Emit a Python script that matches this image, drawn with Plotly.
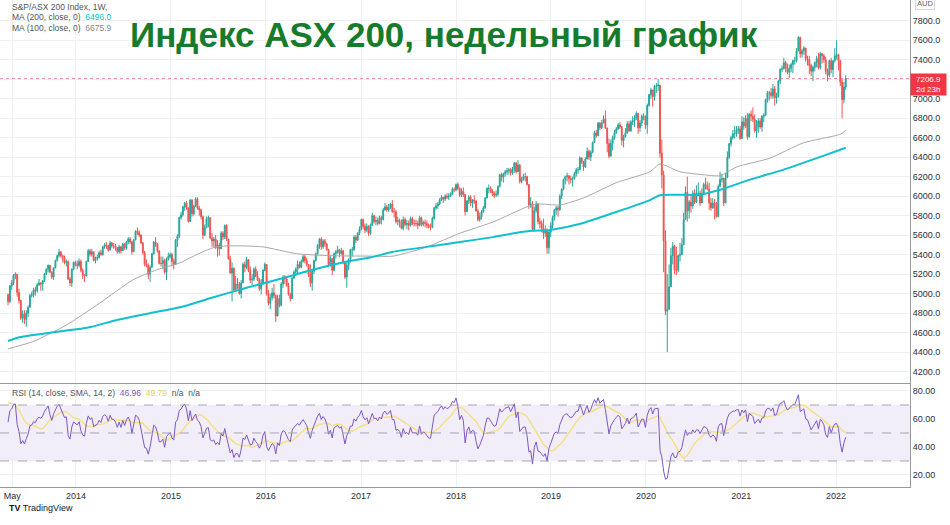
import numpy as np
import pandas as pd
import plotly.graph_objects as go

# ---------------- DATA (weekly, S&P/ASX 200, week starting Monday) ----------------
# closes before the first visible candle (Oct 2012 - Apr 2013), used only for RSI warm-up / first open
warmup_close = [4510, 4470, 4550, 4510,
                4490, 4430, 4400, 4490, 4510,
                4570, 4600, 4630, 4650,
                4720, 4710, 4750, 4860,
                4880, 4980, 5020, 5000,
                5070, 5120, 5100, 4970, 4970,
                4920, 4990]

close_2013 = [4920, 5080,
              5110, 5190, 5200, 5010, 4930,
              4750, 4790, 4735, 4800,
              4860, 4980, 4990, 5040,
              5030, 5090, 5110, 5100, 5135,
              5200, 5250, 5290, 5220,
              5170, 5265, 5340, 5390,
              5425, 5390, 5370, 5320, 5330,
              5150, 5110, 5250, 5320,
              5300]
high_2013 = [5000, 5090,
             5140, 5200, 5220, 5200, 5050,
             4940, 4830, 4830, 4830,
             4880, 5000, 5020, 5060,
             5070, 5110, 5150, 5120, 5140,
             5210, 5260, 5300, 5290,
             5230, 5270, 5350, 5400,
             5460, 5440, 5400, 5390, 5350,
             5340, 5170, 5260, 5330,
             5340]
low_2013 = [4880, 4900,
            5040, 5090, 5150, 4970, 4900,
            4730, 4700, 4690, 4660,
            4760, 4860, 4960, 4960,
            4980, 5010, 5080, 5030, 5030,
            5120, 5190, 5220, 5210,
            5150, 5140, 5260, 5330,
            5370, 5370, 5320, 5300, 5280,
            5140, 5080, 5070, 5240,
            5280]

close_2014 = [5290, 5330, 5240, 5190,
              5180, 5330, 5440, 5405,
              5430, 5340, 5360, 5370,
              5420, 5400, 5480, 5500,
              5490, 5450, 5520, 5490, 5490,
              5470, 5430, 5480, 5440,
              5510, 5470, 5530, 5560,
              5530, 5430, 5550, 5640, 5630,
              5600, 5520, 5420, 5300,
              5290, 5200, 5270, 5410, 5530,
              5510, 5440, 5310, 5310,
              5340, 5220, 5350, 5380,
              5400]
high_2014 = [5340, 5360, 5350, 5260,
             5200, 5340, 5460, 5460,
             5460, 5430, 5380, 5400,
             5440, 5450, 5490, 5520,
             5530, 5500, 5540, 5530, 5520,
             5510, 5480, 5500, 5490,
             5520, 5520, 5540, 5580,
             5580, 5540, 5560, 5650, 5680,
             5650, 5610, 5530, 5440,
             5350, 5310, 5290, 5420, 5540,
             5580, 5520, 5440, 5380,
             5380, 5360, 5370, 5420,
             5420]
low_2014 = [5250, 5270, 5220, 5150,
            5120, 5180, 5330, 5380,
            5380, 5330, 5310, 5340,
            5360, 5390, 5390, 5460,
            5460, 5430, 5440, 5470, 5460,
            5440, 5410, 5410, 5410,
            5440, 5450, 5450, 5510,
            5510, 5400, 5430, 5550, 5600,
            5580, 5510, 5400, 5280,
            5270, 5150, 5120, 5270, 5400,
            5480, 5420, 5300, 5280,
            5250, 5200, 5140, 5340,
            5360]

close_2015 = [5330, 5300, 5550, 5590,
              5780, 5810, 5890, 5930,
              5880, 5740, 5960, 5820,
              5900, 5970, 5880, 5860,
              5790, 5600, 5680, 5770, 5780,
              5570, 5540, 5560, 5470,
              5500, 5460, 5620, 5580, 5700,
              5560, 5360, 5210, 5260,
              5040, 5100, 5100, 5000,
              5110, 5300, 5270, 5350, 5240,
              5140, 5150, 5250, 5180,
              5140, 5050, 5100, 5240,
              5300]
high_2015 = [5420, 5360, 5560, 5610,
             5790, 5840, 5900, 5940,
             5950, 5880, 5970, 5970,
             5910, 5990, 5990, 5900,
             5870, 5800, 5710, 5790, 5800,
             5780, 5620, 5580, 5600,
             5550, 5520, 5640, 5640, 5710,
             5710, 5560, 5390, 5320,
             5270, 5180, 5160, 5120,
             5140, 5320, 5330, 5380, 5340,
             5280, 5200, 5270, 5280,
             5230, 5160, 5150, 5250,
             5320]
low_2015 = [5280, 5250, 5300, 5480,
            5570, 5760, 5790, 5850,
            5860, 5730, 5740, 5790,
            5800, 5890, 5860, 5800,
            5760, 5560, 5590, 5670, 5680,
            5560, 5480, 5480, 5460,
            5380, 5390, 5460, 5550, 5560,
            5540, 5350, 5210, 4920,
            5030, 5020, 5050, 4990,
            4950, 5110, 5220, 5250, 5220,
            5110, 5090, 5130, 5170,
            5130, 5030, 4990, 5100,
            5230]

close_2016 = [5000, 4900, 4960, 5010,
              4980, 4770, 4950, 4880,
              5100, 5170, 5150, 5080,
              4990, 4950, 5160, 5220, 5250,
              5300, 5270, 5330, 5380,
              5340, 5300, 5200, 5110,
              5230, 5340, 5410, 5500, 5560,
              5480, 5540, 5510, 5450,
              5300, 5360, 5240, 5410, 5430,
              5450, 5410, 5440, 5320,
              5170, 5290, 5350, 5450,
              5450, 5580, 5550, 5620, 5665]
high_2016 = [5300, 5040, 5000, 5060,
             5100, 4990, 4990, 4990,
             5120, 5190, 5190, 5170,
             5110, 5010, 5170, 5240, 5270,
             5340, 5330, 5350, 5400,
             5400, 5370, 5300, 5300,
             5240, 5350, 5420, 5510, 5570,
             5580, 5560, 5560, 5520,
             5460, 5390, 5330, 5420, 5450,
             5490, 5460, 5470, 5450,
             5330, 5320, 5360, 5460,
             5480, 5600, 5600, 5630, 5690]
low_2016 = [4980, 4880, 4840, 4930,
            4950, 4710, 4770, 4860,
            4870, 5060, 5100, 5070,
            4980, 4920, 4950, 5150, 5180,
            5200, 5260, 5260, 5320,
            5310, 5280, 5170, 5070,
            5030, 5200, 5330, 5400, 5460,
            5450, 5460, 5480, 5440,
            5290, 5290, 5190, 5230, 5360,
            5410, 5370, 5400, 5300,
            5150, 5060, 5240, 5320,
            5380, 5440, 5520, 5540, 5600]

close_2017 = [5760, 5690, 5650, 5690,
              5620, 5700, 5800, 5740,
              5750, 5720, 5780, 5760, 5860,
              5890, 5860, 5880, 5920,
              5840, 5840, 5740, 5750,
              5730, 5670, 5760, 5710, 5720,
              5700, 5770, 5720, 5720,
              5720, 5700, 5780, 5710,
              5730, 5720, 5700, 5680, 5680,
              5770, 5880, 5900, 5920,
              5960, 5990, 5970, 6000,
              5990, 6000, 6020, 6070, 6065]
high_2017 = [5770, 5770, 5720, 5720,
             5700, 5720, 5830, 5810,
             5790, 5780, 5800, 5800, 5880,
             5930, 5910, 5920, 5930,
             5960, 5880, 5860, 5790,
             5770, 5760, 5790, 5780, 5760,
             5750, 5790, 5790, 5760,
             5760, 5750, 5800, 5790,
             5750, 5760, 5750, 5720, 5720,
             5790, 5890, 5930, 5940,
             5980, 6010, 5990, 6020,
             6030, 6030, 6040, 6090, 6090]
low_2017 = [5650, 5660, 5620, 5630,
            5590, 5600, 5700, 5720,
            5700, 5700, 5710, 5710, 5750,
            5850, 5840, 5840, 5870,
            5830, 5780, 5720, 5700,
            5680, 5660, 5650, 5690, 5660,
            5650, 5690, 5700, 5690,
            5690, 5660, 5690, 5690,
            5690, 5680, 5670, 5670, 5650,
            5670, 5760, 5860, 5870,
            5910, 5950, 5930, 5950,
            5970, 5960, 5990, 6010, 6040]

close_2018 = [6120, 6080, 6010, 6050,
              6020, 5840, 5950, 5990,
              5930, 5960, 5950, 5850, 5760,
              5790, 5840, 5880, 5980,
              6080, 6080, 6050, 6030,
              6010, 6020, 6100, 6220, 6195,
              6230, 6250, 6260, 6270,
              6240, 6280, 6340, 6250, 6320,
              6150, 6170, 6200, 6200,
              6120, 5910, 5920, 5660,
              5850, 5920, 5740, 5720, 5670,
              5620, 5650, 5470, 5630,
              5700]
high_2018 = [6130, 6140, 6090, 6080,
             6090, 6010, 5960, 6010,
             6010, 5970, 6010, 5960, 5870,
             5830, 5860, 5900, 5990,
             6090, 6120, 6100, 6070,
             6050, 6060, 6110, 6230, 6240,
             6240, 6270, 6290, 6290,
             6290, 6300, 6350, 6350, 6370,
             6330, 6200, 6230, 6240,
             6210, 6120, 5990, 5950,
             5890, 5950, 5930, 5780, 5750,
             5770, 5700, 5670, 5650,
             5730]
low_2018 = [6050, 6060, 5990, 5990,
            5990, 5800, 5840, 5920,
            5900, 5880, 5920, 5840, 5740,
            5740, 5760, 5830, 5870,
            5980, 6030, 6030, 6000,
            5980, 5990, 6000, 6090, 6150,
            6140, 6200, 6220, 6220,
            6210, 6220, 6240, 6230, 6250,
            6130, 6130, 6160, 6150,
            6110, 5870, 5880, 5650,
            5640, 5830, 5710, 5670, 5630,
            5560, 5580, 5410, 5410,
            5580]

close_2019 = [5780, 5860, 5880, 5860,
              6000, 6070, 6170, 6200,
              6210, 6180, 6170, 6180,
              6230, 6270, 6270, 6390,
              6350, 6300, 6380, 6460, 6400,
              6450, 6550, 6650, 6620,
              6750, 6700, 6750, 6790,
              6700, 6540, 6410, 6540, 6600,
              6650, 6690, 6730, 6710,
              6570, 6610, 6650, 6740,
              6670, 6760, 6770, 6800, 6850,
              6700, 6750, 6820, 6820,
              6730]
high_2019 = [5800, 5870, 5900, 5900,
             6020, 6080, 6180, 6210,
             6240, 6210, 6210, 6200,
             6250, 6290, 6300, 6410,
             6400, 6360, 6400, 6500, 6480,
             6470, 6560, 6670, 6680,
             6760, 6760, 6780, 6830,
             6880, 6700, 6590, 6580, 6620,
             6680, 6710, 6750, 6760,
             6720, 6630, 6700, 6770,
             6770, 6780, 6820, 6830, 6870,
             6850, 6780, 6840, 6850,
             6830]
low_2019 = [5670, 5750, 5810, 5790,
            5850, 5970, 6060, 6120,
            6150, 6120, 6130, 6100,
            6170, 6200, 6230, 6270,
            6330, 6260, 6290, 6420, 6370,
            6360, 6440, 6550, 6600,
            6620, 6680, 6690, 6750,
            6690, 6450, 6390, 6410, 6470,
            6580, 6640, 6680, 6690,
            6520, 6500, 6600, 6640,
            6660, 6660, 6730, 6710, 6780,
            6640, 6660, 6720, 6780,
            6690]

close_2020 = [6930, 7040, 7090, 7020,
              7130, 7130, 7140, 6440,
              6220, 5540, 4820, 4840,
              5070, 5390, 5490, 5240,
              5240, 5390, 5400, 5500, 5760,
              6040, 5850, 5940, 5900,
              6030, 5940, 6030, 6030, 5930,
              6030, 6120, 6110, 6070,
              5930, 5880, 5930, 5900,
              5790, 6100, 6170, 6180, 5930,
              6190, 6400, 6540, 6600,
              6640, 6640, 6680, 6690,
              6590]
high_2020 = [6950, 7050, 7110, 7090,
             7140, 7160, 7200, 7140,
             6580, 6260, 5650, 5200,
             5300, 5470, 5530, 5500,
             5480, 5400, 5520, 5570, 5830,
             6100, 6200, 5960, 6000,
             6060, 6070, 6110, 6140, 6060,
             6080, 6140, 6190, 6150,
             6140, 5980, 5980, 5970,
             5940, 6120, 6250, 6230, 6190,
             6240, 6460, 6540, 6620,
             6680, 6720, 6720, 6720,
             6720]
low_2020 = [6640, 6920, 7000, 6920,
            6980, 7060, 7080, 6390,
            6080, 5220, 4780, 4400,
            4880, 5090, 5300, 5200,
            5190, 5220, 5330, 5400, 5540,
            5770, 5740, 5770, 5830,
            5870, 5920, 5930, 6000, 5900,
            5930, 6030, 6070, 6060,
            5860, 5850, 5870, 5760,
            5780, 5800, 6110, 6140, 5900,
            5930, 6200, 6380, 6510,
            6580, 6590, 6610, 6640,
            6580]

close_2021 = [6760, 6720, 6800, 6610,
              6840, 6820, 6790, 6670,
              6710, 6770, 6710, 6820,
              6830, 6990, 7060, 7060, 7030,
              7100, 7010, 7030, 7180,
              7300, 7310, 7370, 7310,
              7270, 7310, 7350, 7390, 7390,
              7490, 7630, 7460, 7490,
              7520, 7410, 7400, 7340,
              7280, 7320, 7370, 7410, 7320,
              7460, 7440, 7400, 7280,
              7240, 7390, 7300, 7390, 7440]
high_2021 = [6820, 6810, 6830, 6850,
             6850, 6880, 6910, 6840,
             6780, 6800, 6800, 6830,
             6850, 7000, 7080, 7080, 7110,
             7150, 7130, 7060, 7190,
             7310, 7340, 7420, 7390,
             7360, 7350, 7370, 7400, 7430,
             7520, 7640, 7630, 7510,
             7540, 7520, 7440, 7440,
             7360, 7340, 7380, 7440, 7470,
             7480, 7470, 7460, 7430,
             7310, 7400, 7420, 7390, 7520]
low_2021 = [6590, 6680, 6700, 6580,
            6600, 6770, 6760, 6650,
            6600, 6650, 6690, 6660,
            6760, 6820, 6960, 6980, 7000,
            7000, 6930, 6950, 7010,
            7150, 7270, 7300, 7270,
            7250, 7210, 7270, 7260, 7350,
            7370, 7490, 7420, 7420,
            7450, 7380, 7340, 7250,
            7230, 7180, 7280, 7320, 7300,
            7300, 7360, 7370, 7250,
            7180, 7220, 7260, 7220, 7370]

close_2022 = [7450, 7390, 7170, 6990, 7120, 7206.9]
high_2022 = [7600, 7460, 7400, 7200, 7170, 7240]
low_2022 = [7400, 7290, 7130, 6800, 6950, 7090]

# moving averages
ma200_dates = ['2013-04-15', '2013-06-01', '2013-09-23', '2014-02-12', '2014-06-08', '2014-10-12',
               '2015-02-05', '2015-06-10', '2015-10-19', '2016-02-23', '2016-06-29', '2016-11-07',
               '2017-02-05', '2017-05-04', '2017-09-11', '2018-01-16', '2018-05-23', '2018-08-23',
               '2018-10-23', '2018-12-24', '2019-02-04', '2019-05-04', '2019-09-11', '2020-01-16',
               '2020-02-24', '2020-07-27', '2020-10-12', '2021-02-04', '2021-06-11', '2021-10-19',
               '2022-02-07']
ma200_vals = [4515, 4555, 4600, 4650, 4730, 4800,
              4860, 4960, 5060, 5150, 5245, 5330,
              5370, 5430, 5480, 5530, 5580, 5625,
              5645, 5650, 5670, 5725, 5840, 5960,
              6010, 6015, 6065, 6170, 6270, 6390,
              6496]
ma100_dates = ['2013-04-15', '2013-07-19', '2013-11-26', '2014-04-03', '2014-08-07', '2014-11-07',
               '2015-02-05', '2015-03-15', '2015-06-10', '2015-08-04', '2015-12-20', '2016-04-27',
               '2016-09-03', '2017-02-05', '2017-05-04', '2017-09-11', '2018-01-16', '2018-05-23',
               '2018-09-30', '2018-11-07', '2019-02-04', '2019-05-04', '2019-09-11', '2020-01-16',
               '2020-02-24', '2020-05-11', '2020-08-07', '2020-10-12', '2020-12-15', '2021-04-22',
               '2021-08-26', '2022-01-04', '2022-01-24', '2022-02-07']
ma100_vals = [4435, 4508, 4680, 4905, 5140, 5245,
              5316, 5367, 5470, 5490, 5480, 5410,
              5390, 5385, 5385, 5480, 5620, 5735,
              5890, 5920, 5910, 5980, 6140, 6250,
              6330, 6250, 6220, 6210, 6300, 6390,
              6545, 6625, 6645, 6676]

tick_dates = ['2013-05-01', '2014-01-01', '2015-01-01', '2016-01-01', '2017-01-01',
              '2018-01-01', '2019-01-01', '2020-01-01', '2021-01-01', '2022-01-01']
tick_labels = ['May', '2014', '2015', '2016', '2017', '2018', '2019', '2020', '2021', '2022']
price_ticks = list(range(4200, 7801, 200))
rsi_ticks = [20, 40, 60, 80]
last_price = 7206.9

# ---------------- assemble ----------------
close = (close_2013 + close_2014 + close_2015 + close_2016 + close_2017 +
         close_2018 + close_2019 + close_2020 + close_2021 + close_2022)
high = (high_2013 + high_2014 + high_2015 + high_2016 + high_2017 +
        high_2018 + high_2019 + high_2020 + high_2021 + high_2022)
low = (low_2013 + low_2014 + low_2015 + low_2016 + low_2017 +
       low_2018 + low_2019 + low_2020 + low_2021 + low_2022)
n = min(len(close), len(high), len(low))
close, high, low = close[:n], high[:n], low[:n]
opens = [warmup_close[-1]] + close[:-1]
high = [max(h, o, c) for h, o, c in zip(high, opens, close)]
low = [min(l, o, c) for l, o, c in zip(low, opens, close)]
dates = pd.date_range('2013-04-15', periods=n, freq='W-MON')

# RSI(14, RMA) + SMA(14) of RSI
allc = np.array(warmup_close + close, dtype=float)
d = np.diff(allc)
g = np.clip(d, 0, None)
lo = np.clip(-d, 0, None)
ag = np.full(len(d), np.nan)
al = np.full(len(d), np.nan)
ag[13] = g[:14].mean()
al[13] = lo[:14].mean()
for i in range(14, len(d)):
    ag[i] = (ag[i - 1] * 13 + g[i]) / 14
    al[i] = (al[i - 1] * 13 + lo[i]) / 14
rsi_all = 100 - 100 / (1 + ag / al)
rsi_sma_all = pd.Series(rsi_all).rolling(14).mean().values
rsi = rsi_all[-n:]
rsi_sma = rsi_sma_all[-n:]

# ---------------- figure ----------------
GRID = '#eef0f4'
AXC = '#9598a1'
TXT = '#2a2e39'
FONT = 'Liberation Sans, Arial, sans-serif'

fig = go.Figure()
fig.add_trace(go.Scatter(x=pd.to_datetime(ma100_dates), y=ma100_vals, mode='lines',
                         line=dict(color='#a9a9a9', width=1, shape='spline', smoothing=0.6),
                         xaxis='x', yaxis='y', hoverinfo='skip'))
fig.add_trace(go.Scatter(x=pd.to_datetime(ma200_dates), y=ma200_vals, mode='lines',
                         line=dict(color='#13bfcf', width=2, shape='spline', smoothing=0.6),
                         xaxis='x', yaxis='y', hoverinfo='skip'))
fig.add_trace(go.Candlestick(x=dates, open=opens, high=high, low=low, close=close,
                             increasing=dict(line=dict(color='#26a69a', width=1), fillcolor='#26a69a'),
                             decreasing=dict(line=dict(color='#ef5350', width=1), fillcolor='#ef5350'),
                             whiskerwidth=0, xaxis='x', yaxis='y'))
fig.add_trace(go.Scatter(x=dates, y=rsi_sma, mode='lines',
                         line=dict(color='#f5df8a', width=1.5), xaxis='x2', yaxis='y2'))
fig.add_trace(go.Scatter(x=dates, y=rsi, mode='lines',
                         line=dict(color='#7e57c2', width=1), xaxis='x2', yaxis='y2'))

# the 7200 label is hidden behind the last-price tag, as in the original
price_text = ['' if v == 7200 else f'{v:.1f}' for v in price_ticks]

xr = ['2013-03-15', '2022-10-12']
fig.update_layout(
    width=950, height=525,
    margin=dict(l=0, r=40, t=0, b=38, autoexpand=False),
    paper_bgcolor='white', plot_bgcolor='white',
    showlegend=False,
    font=dict(family=FONT, color=TXT, size=9),
    xaxis=dict(domain=[0, 1], anchor='y', range=xr, rangeslider=dict(visible=False),
               tickvals=tick_dates, ticktext=tick_labels, showticklabels=False,
               showgrid=True, gridcolor=GRID, zeroline=False, automargin=False,
               showline=True, linecolor=AXC, linewidth=1, ticks=''),
    xaxis2=dict(domain=[0, 1], anchor='y2', range=xr, matches='x',
                tickvals=tick_dates, ticktext=tick_labels, showticklabels=True,
                tickfont=dict(size=9, color=TXT), automargin=False,
                showgrid=True, gridcolor=GRID, zeroline=False,
                showline=True, linecolor=AXC, linewidth=1, ticks=''),
    yaxis=dict(domain=[0.2136, 1], anchor='x', side='right', range=[4084, 8012],
               tickvals=price_ticks, ticktext=price_text,
               tickfont=dict(size=9, color=TXT), automargin=False,
               showgrid=True, gridcolor=GRID, zeroline=False,
               showline=True, linecolor=AXC, linewidth=1, ticks=''),
    yaxis2=dict(domain=[0, 0.2115], anchor='x2', side='right', range=[11.4, 85],
                tickvals=rsi_ticks, ticktext=[f'{v:.2f}' for v in rsi_ticks],
                tickfont=dict(size=9, color=TXT), automargin=False,
                showgrid=True, gridcolor=GRID, zeroline=False,
                showline=True, linecolor=AXC, linewidth=1, ticks=''),
)

# RSI band and levels
fig.add_shape(type='rect', xref='x2 domain', yref='y2', x0=0, x1=1, y0=30, y1=70,
              fillcolor='rgba(126,87,194,0.10)', line=dict(width=0), layer='below')
for lvl in (70, 50, 30):
    fig.add_shape(type='line', xref='x2 domain', yref='y2', x0=0, x1=1, y0=lvl, y1=lvl,
                  line=dict(color='#a7a3b5', width=1, dash='dash'))
# last price line
fig.add_shape(type='line', xref='x domain', yref='y', x0=0, x1=1, y0=last_price, y1=last_price,
              line=dict(color='rgba(242,54,69,0.55)', width=1, dash='dot'))

anns = [
    dict(text='<b>Индекс ASX 200, недельный график</b>', x=0.488, y=0.930, xref='paper', yref='paper',
         xanchor='center', yanchor='middle', showarrow=False,
         font=dict(size=35, color='#187b2c', family=FONT)),
    dict(text='S&amp;P/ASX 200 Index, 1W,', x=0.011, y=0.986, xref='paper', yref='paper',
         xanchor='left', yanchor='middle', showarrow=False, font=dict(size=8.5, color='#555')),
    dict(text="MA (200, close, 0)  <span style='color:#13bfcf'>6496.0</span>", x=0.011, y=0.965,
         xref='paper', yref='paper', xanchor='left', yanchor='middle', showarrow=False,
         font=dict(size=8.5, color='#555')),
    dict(text="MA (100, close, 0)  <span style='color:#888'>6675.9</span>", x=0.011, y=0.943,
         xref='paper', yref='paper', xanchor='left', yanchor='middle', showarrow=False,
         font=dict(size=8.5, color='#555')),
    dict(text="RSI (14, close, SMA, 14, 2)  <span style='color:#7e57c2'>46.96</span>  "
              "<span style='color:#e9cf5e'>49.79</span>  n/a  n/a",
         x=0.011, y=0.193, xref='paper', yref='paper', xanchor='left', yanchor='middle',
         showarrow=False, font=dict(size=8.5, color='#555')),
    dict(text='7206.9<br>2d 23h', x=1.0, y=7264, xref='paper', yref='y', xanchor='left',
         yanchor='top', showarrow=False, bgcolor='#f23645', width=33, borderpad=1,
         font=dict(size=8, color='white')),
    dict(text='AUD', x=1.017, y=0.992, xref='paper', yref='paper', xanchor='center',
         yanchor='middle', showarrow=False, bordercolor='#d6d6d6', borderwidth=1, borderpad=1,
         font=dict(size=7.5, color='#666')),
    dict(text='<b>TV</b> TradingView', x=0.008, y=-0.043, xref='paper', yref='paper',
         xanchor='left', yanchor='middle', showarrow=False, font=dict(size=9, color='#131722')),
]
fig.update_layout(annotations=anns)

fig.write_html('out.html', config={'displayModeBar': False},
               post_script="document.body.style.margin='0';document.body.style.overflow='hidden';")
